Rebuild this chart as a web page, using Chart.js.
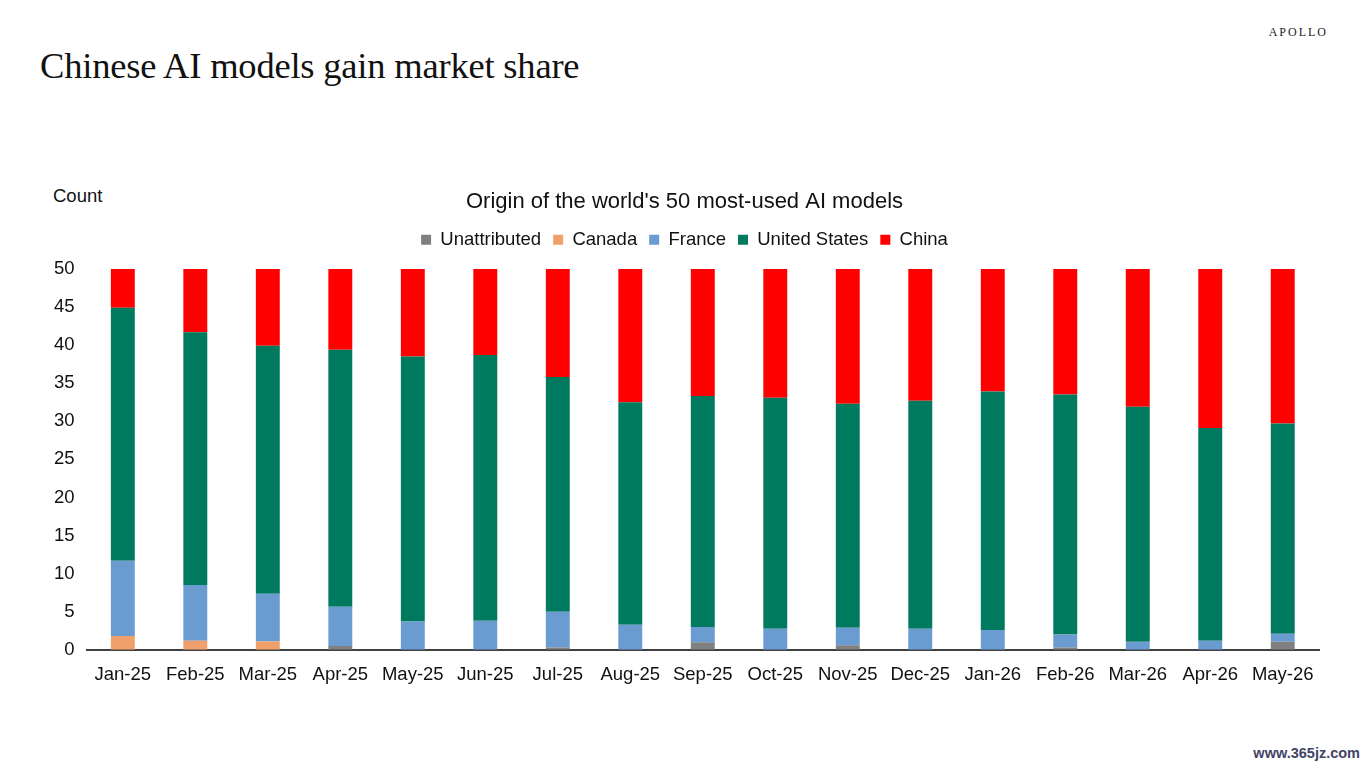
<!DOCTYPE html>
<html>
<head>
<meta charset="utf-8">
<script src="https://cdn.jsdelivr.net/npm/chart.js@4"></script>
<style>
  body { margin: 0; background: #fff; width: 1366px; height: 768px; overflow: hidden; position: relative; font-family: "Liberation Sans", Arial, sans-serif; }
  .headline { position: absolute; left: 40px; top: 44px; font-family: "Liberation Serif", "Times New Roman", serif; font-size: 36.5px; color: #111; letter-spacing: -0.2px; }
  .brand { position: absolute; right: 38px; top: 25px; font-family: "Liberation Serif", serif; font-size: 12px; letter-spacing: 2px; color: #222; }
  .unit { position: absolute; left: 53px; top: 185px; font-size: 18.5px; color: #111; }
  .mark { position: absolute; right: 6px; bottom: 7px; font-size: 14.5px; color: #446; font-weight: bold; }
  #wrap { position: absolute; left: 0; top: 179px; width: 1366px; height: 513px; }
</style>
</head>
<body>
<div class="headline">Chinese AI models gain market share</div>
<div class="brand">APOLLO</div>
<div class="unit">Count</div>
<div class="mark">www.365jz.com</div>
<div id="wrap"><canvas id="chart"></canvas></div>
<script>
const months = ['Jan-25', 'Feb-25', 'Mar-25', 'Apr-25', 'May-25', 'Jun-25', 'Jul-25', 'Aug-25', 'Sep-25',
  'Oct-25', 'Nov-25', 'Dec-25', 'Jan-26', 'Feb-26', 'Mar-26', 'Apr-26', 'May-26'];

const unattributed = [0, 0, 0, 0.5, 0, 0, 0.3, 0, 1.0, 0, 0.6, 0, 0, 0.3, 0, 0, 1.05];
const canada = [1.8, 1.2, 1.1, 0, 0, 0, 0, 0, 0, 0, 0, 0, 0, 0, 0, 0, 0];
const france = [9.9, 7.3, 6.25, 5.15, 3.7, 3.8, 4.7, 3.3, 2.0, 2.75, 2.3, 2.75, 2.6, 1.7, 1.05, 1.2, 1.05];
const unitedStates = [33.2, 33.2, 32.55, 33.75, 34.8, 34.9, 30.8, 29.2, 30.3, 30.35, 29.4, 29.95, 31.3, 31.5, 30.85, 27.9, 27.6];
const china = [5.1, 8.3, 10.1, 10.6, 11.5, 11.3, 14.2, 17.5, 16.7, 16.9, 17.7, 17.3, 16.1, 16.5, 18.1, 20.9, 20.3];

const yTicks = [0, 5, 10, 15, 20, 25, 30, 35, 40, 45, 50];

const seriesConfig = [
  { label: 'Unattributed', data: unattributed, color: '#808080' },
  { label: 'Canada', data: canada, color: '#F0A06A' },
  { label: 'France', data: france, color: '#6A9BD1' },
  { label: 'United States', data: unitedStates, color: '#007A5E' },
  { label: 'China', data: china, color: '#FF0000' },
];

// push the plot a little further below the legend
const legendGap = {
  id: 'legendGap',
  beforeInit(chart) {
    const origFit = chart.legend.fit;
    chart.legend.fit = function () {
      origFit.bind(chart.legend)();
      this.height += 10;
    };
  }
};

const ctx = document.getElementById('chart').getContext('2d');
new Chart(ctx, {
  type: 'bar',
  data: {
    labels: months,
    datasets: seriesConfig.map(({ label, data, color }) => ({
      label,
      data,
      backgroundColor: color,
      borderWidth: 0,
      barPercentage: 0.33,
      categoryPercentage: 1
    }))
  },
  options: {
    responsive: true,
    maintainAspectRatio: false,
    animation: false,
    layout: { padding: { left: 50, right: 47, top: 0, bottom: 0 } },
    plugins: {
      title: {
        display: true,
        text: "Origin of the world's 50 most-used AI models",
        color: '#111',
        font: { family: 'Liberation Sans', size: 22, weight: 'normal' },
        padding: { top: 10, bottom: 3 }
      },
      legend: {
        position: 'top',
        labels: {
          color: '#111',
          boxWidth: 10,
          boxHeight: 10,
          padding: 12,
          font: { family: 'Liberation Sans', size: 18.5 }
        }
      },
      tooltip: { enabled: false }
    },
    scales: {
      x: {
        stacked: true,
        grid: { display: false },
        border: { color: '#404040', width: 2 },
        ticks: { color: '#111', font: { family: 'Liberation Sans', size: 18.5 }, maxRotation: 0, autoSkip: false, padding: 6 }
      },
      y: {
        stacked: true,
        min: 0,
        max: 50,
        afterBuildTicks: axis => { axis.ticks = yTicks.map(v => ({ value: v })); },
        grid: { display: false },
        border: { display: false },
        ticks: { color: '#111', font: { family: 'Liberation Sans', size: 18.5 }, padding: 4 }
      }
    }
  },
  plugins: [legendGap]
});
</script>
</body>
</html>
